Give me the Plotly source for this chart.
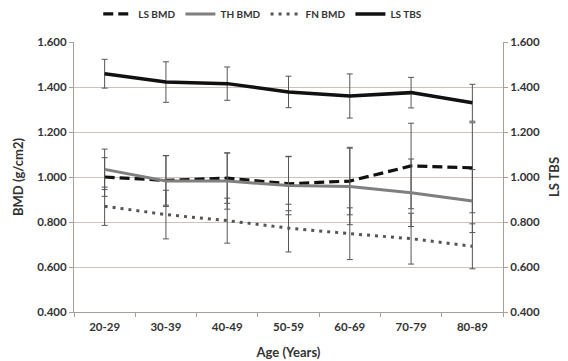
import plotly.graph_objects as go

ages = ["20-29", "30-39", "40-49", "50-59", "60-69", "70-79", "80-89"]

ls_bmd = [1.000, 0.985, 0.995, 0.970, 0.982, 1.049, 1.041]
ls_bmd_sd = [0.086, 0.110, 0.112, 0.120, 0.150, 0.190, 0.200]

th_bmd = [1.034, 0.982, 0.982, 0.962, 0.958, 0.930, 0.893]
th_bmd_sd = [0.090, 0.113, 0.125, 0.130, 0.170, 0.150, 0.140]

fn_bmd = [0.870, 0.833, 0.806, 0.773, 0.748, 0.726, 0.692]
fn_bmd_sd = [0.085, 0.108, 0.100, 0.106, 0.115, 0.113, 0.100]

ls_tbs = [1.459, 1.422, 1.415, 1.378, 1.360, 1.375, 1.330]
ls_tbs_sd = [0.064, 0.090, 0.074, 0.070, 0.098, 0.068, 0.082]

FONT = "Lato"
ERR = dict(type="data", thickness=1, width=3, color="#555555")

fig = go.Figure()
fig.add_trace(go.Scatter(x=ages, y=ls_bmd, name="LS BMD", mode="lines",
                         line=dict(color="#111111", width=3.2, dash="10px,5px"),
                         error_y=dict(array=ls_bmd_sd, **ERR)))
fig.add_trace(go.Scatter(x=ages, y=th_bmd, name="TH BMD", mode="lines",
                         line=dict(color="#7f7f7f", width=3),
                         error_y=dict(array=th_bmd_sd, **ERR)))
fig.add_trace(go.Scatter(x=ages, y=fn_bmd, name="FN BMD", mode="lines",
                         line=dict(color="#555555", width=3, dash="3px,5px"),
                         error_y=dict(array=fn_bmd_sd, **ERR)))
fig.add_trace(go.Scatter(x=ages, y=ls_tbs, name="LS TBS", mode="lines", yaxis="y2",
                         line=dict(color="#111111", width=3.5),
                         error_y=dict(array=ls_tbs_sd, **ERR)))

yfmt = dict(range=[0.4, 1.6], dtick=0.2, tickformat=".3f", automargin=False,
            tickfont=dict(family=FONT, size=11.5, color="#333333", weight="bold"),
            ticks="outside", ticklen=4, tickcolor="#a89f98",
            showline=True, linecolor="#a89f98", linewidth=1, zeroline=False)

fig.update_layout(
    width=568, height=361,
    margin=dict(l=74, r=65, t=42, b=49, autoexpand=False),
    paper_bgcolor="white", plot_bgcolor="white",
    font=dict(family=FONT, color="#333333"),
    legend=dict(orientation="h", x=0.44, xanchor="center", y=1.104,
                yanchor="middle", font=dict(family=FONT, size=10, weight="bold"),
                tracegroupgap=0),
    xaxis=dict(title=dict(text="Age (Years)", font=dict(size=13, weight="bold"), standoff=16),
               range=[-0.5, 6.5], automargin=False, ticklabelstandoff=4,
               tickfont=dict(family=FONT, size=11.5, color="#333333", weight="bold"),
               showline=True, linecolor="#a89f98", linewidth=1,
               ticks="outside", ticklen=4, tickcolor="#a89f98",
               tickson="boundaries", showgrid=False),
    yaxis=dict(title=dict(text="BMD (g/cm2)", font=dict(size=13, weight="bold"), standoff=10),
               showgrid=True, gridcolor="#cbc2bb", gridwidth=1, **yfmt),
    yaxis2=dict(title=dict(text="LS TBS", font=dict(size=13, weight="bold"), standoff=10),
                overlaying="y", side="right", showgrid=False, **yfmt),
)

fig.write_html("out.html", config={"displayModeBar": False},
               post_script="document.body.style.margin='0';")
